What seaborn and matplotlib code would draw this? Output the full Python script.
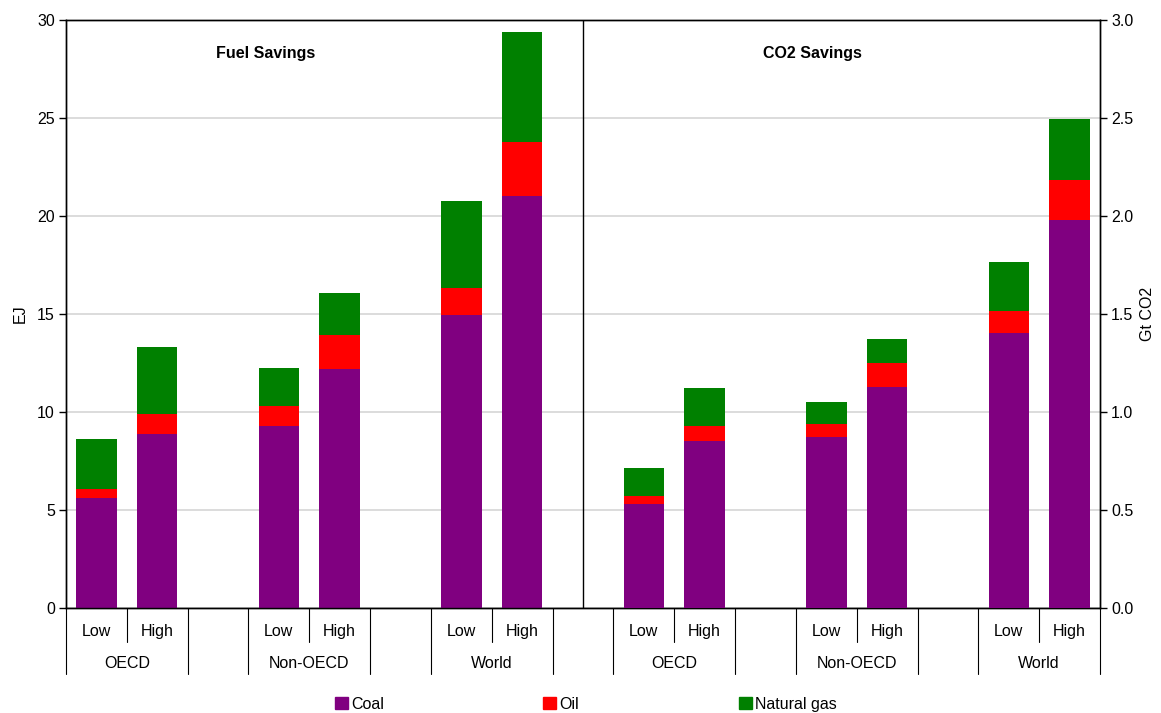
import pandas as pd
import seaborn as sns
import matplotlib.pyplot as plt
from matplotlib.patches import Patch

sns.set_style('white')
plt.rcParams['font.family'] = ['Liberation Sans', 'DejaVu Sans']
plt.rcParams['text.color'] = 'black'
plt.rcParams['axes.labelcolor'] = 'black'
plt.rcParams['xtick.color'] = 'black'
plt.rcParams['ytick.color'] = 'black'

regions = ['OECD', 'Non-OECD', 'World']
cases = ['Low', 'High']
panels = ['Fuel Savings', 'CO2 Savings']

# order: OECD Low, OECD High, Non-OECD Low, Non-OECD High, World Low, World High
fuel_coal = [5.59, 8.86, 9.27, 12.19, 14.91, 21.02]
fuel_oil = [0.46, 1.04, 1.02, 1.70, 1.42, 2.76]
fuel_gas = [2.56, 3.41, 1.95, 2.19, 4.44, 5.61]

co2_coal = [0.530, 0.851, 0.871, 1.127, 1.399, 1.979]
co2_oil = [0.041, 0.078, 0.068, 0.122, 0.113, 0.204]
co2_gas = [0.141, 0.193, 0.111, 0.123, 0.251, 0.311]

colors = {'Coal': '#800080', 'Oil': '#ff0000', 'Natural gas': '#008000'}

# slot order, with empty slots between groups
order = []
for p in panels:
    for r in regions:
        for c in cases:
            order.append(p + '|' + r + '|' + c)
        order.append('gap|' + p + '|' + r)
order = order[:-1]


def make_df(panel, coal, oil, gas):
    rows = []
    i = 0
    for r in regions:
        for c in cases:
            rows.append({'slot': panel + '|' + r + '|' + c,
                         'Coal': coal[i],
                         'Oil': coal[i] + oil[i],
                         'Natural gas': coal[i] + oil[i] + gas[i]})
            i += 1
    return pd.DataFrame(rows)


fuel_df = make_df(panels[0], fuel_coal, fuel_oil, fuel_gas)
co2_df = make_df(panels[1], co2_coal, co2_oil, co2_gas)

fig = plt.figure(figsize=(11.61, 7.13), dpi=100)
ax = fig.add_axes([0.0568, 0.1477, 0.8907, 0.8247])
ax2 = ax.twinx()

for fuel in ['Natural gas', 'Oil', 'Coal']:
    sns.barplot(data=fuel_df, x='slot', y=fuel, order=order, color=colors[fuel],
                saturation=1, width=2/3, errorbar=None, ax=ax, zorder=3, linewidth=0)
    sns.barplot(data=co2_df, x='slot', y=fuel, order=order, color=colors[fuel],
                saturation=1, width=2/3, errorbar=None, ax=ax2, zorder=3, linewidth=0)

for a in (ax, ax2):
    a.set_xlim(-0.5, len(order) - 0.5)
    a.set_xticks([])
    a.set_xlabel('')
    for s in a.spines.values():
        s.set_color('black')
        s.set_linewidth(1)

fs = 11.5
ax.set_ylim(0, 30)
ax.set_yticks(range(0, 31, 5))
ax2.set_ylim(0, 3)
ax2.set_yticks([i / 2 for i in range(7)])
ax2.set_yticklabels([f'{i / 2:.1f}' for i in range(7)])
ax.yaxis.grid(True, color='#d9d9d9', lw=1.3)
ax.set_axisbelow(True)
ax.tick_params(axis='y', left=True, length=5, width=1, labelsize=fs, pad=3)
ax2.tick_params(axis='y', right=True, length=5, width=1, labelsize=fs, pad=3)
ax.set_ylabel('EJ', fontsize=fs, labelpad=7)
ax2.set_ylabel('Gt CO2', fontsize=fs, labelpad=5)

# divider between panels
ax.axvline(8, color='black', lw=1, zorder=4)

ax.text(0.193, 0.942, 'Fuel Savings', transform=ax.transAxes, ha='center', va='center',
        fontsize=fs, fontweight='bold')
ax.text(0.722, 0.942, 'CO2 Savings', transform=ax.transAxes, ha='center', va='center',
        fontsize=fs, fontweight='bold')

# category labels below the axis
tr = ax.get_xaxis_transform()
for k, slot in enumerate(order):
    parts = slot.split('|')
    if parts[0] != 'gap':
        ax.text(k, -0.041, parts[2], transform=tr, ha='center', va='center', fontsize=fs)
        if parts[2] == 'Low':
            ax.text(k + 0.5, -0.095, parts[1], transform=tr, ha='center', va='center',
                    fontsize=fs)
for b in range(len(order) + 1):
    if b < len(order) and b > 0 and order[b].endswith('|High'):
        low = -0.058
    else:
        low = -0.113
    ax.plot([b - 0.5, b - 0.5], [0, low], transform=tr, color='black', lw=0.8,
            clip_on=False)

handles = [Patch(color=colors[f]) for f in ['Coal', 'Oil', 'Natural gas']]
fig.legend(handles, ['Coal', 'Oil', 'Natural gas'], loc='center',
           bbox_to_anchor=(0.5045, 0.0125), ncol=3, frameon=False, fontsize=fs,
           handlelength=0.8, handleheight=0.8, handletextpad=0.2, columnspacing=10)

fig.savefig('out.png', dpi=100)
